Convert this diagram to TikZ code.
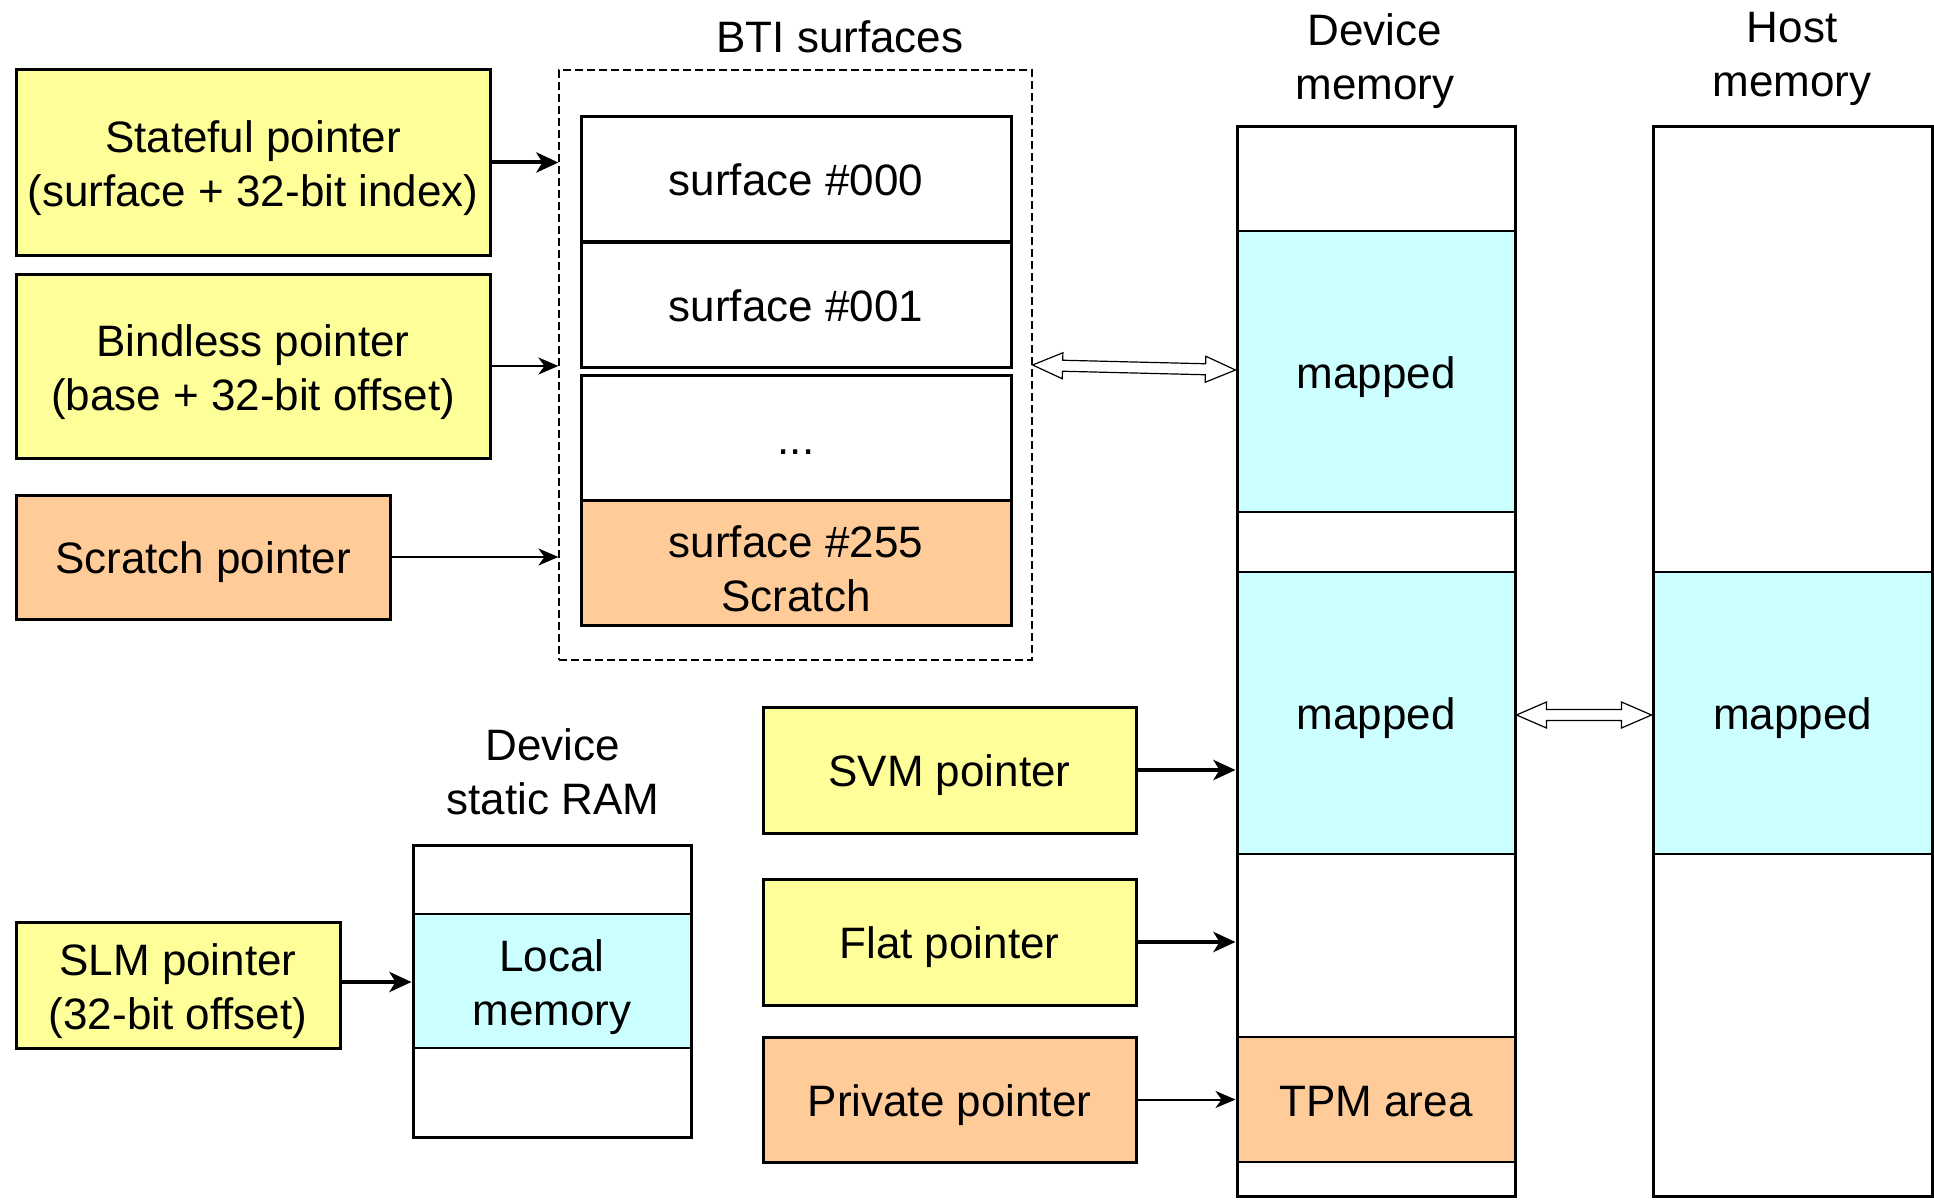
\documentclass[tikz,border=0pt]{standalone}
\usepackage{fontspec}
\setmainfont{Liberation Sans}
\usetikzlibrary{arrows.meta,calc}

\definecolor{ptryellow}{HTML}{FFFF99}
\definecolor{ptrorange}{HTML}{FFCC99}
\definecolor{memcyan}{HTML}{CCFFFF}

% tall line boxes so that box labels sit slightly below the geometric centre
\newcommand\linestrut{\rule[-4.66pt]{0pt}{26pt}}
\newcommand\topstrut{\rule{0pt}{22pt}}

\tikzset{
  lbl/.style={font=\fontsize{22}{27}\selectfont, align=center, inner sep=0pt},
  oneline/.style={execute at begin node=\linestrut, execute at end node=\linestrut},
  box/.style={lbl, draw, line width=1.5pt, minimum width=#1},
  box/.default=237pt,
  yellowbox/.style={box=#1, fill=ptryellow},
  orangebox/.style={box=#1, fill=ptrorange},
  surfbox/.style={box=215pt, minimum height=62.5pt},
  band/.style={lbl, draw, line width=0.7pt, minimum width=139pt},
  column/.style={draw, line width=1.5pt, inner sep=0pt, minimum width=139pt},
  thickptr/.style={line width=2pt, -{Stealth[length=11pt,width=10pt,inset=3pt]}},
  thinptr/.style={line width=1pt, -{Stealth[length=10pt,width=8.5pt,inset=3pt]}},
  hollowarrow/.style={line width=0.6pt, fill=white, line join=miter,
    to path={
      -- ($(\tikztostart)!15pt!(\tikztotarget)!6.5pt!90:(\tikztotarget)$)
      -- ($(\tikztostart)!15pt!(\tikztotarget)!2.75pt!90:(\tikztotarget)$)
      -- ($(\tikztotarget)!15pt!(\tikztostart)!2.75pt!-90:(\tikztostart)$)
      -- ($(\tikztotarget)!15pt!(\tikztostart)!6.5pt!-90:(\tikztostart)$)
      -- (\tikztotarget)
      -- ($(\tikztotarget)!15pt!(\tikztostart)!6.5pt!90:(\tikztostart)$)
      -- ($(\tikztotarget)!15pt!(\tikztostart)!2.75pt!90:(\tikztostart)$)
      -- ($(\tikztostart)!15pt!(\tikztotarget)!2.75pt!-90:(\tikztotarget)$)
      -- ($(\tikztostart)!15pt!(\tikztotarget)!6.5pt!-90:(\tikztotarget)$)
      -- cycle}},
}

\begin{document}
\begin{tikzpicture}[x=0.5pt,y=-0.5pt]
\useasboundingbox (0,0) rectangle (1934,1204);

% pointer kinds on the left
\node[yellowbox=237pt, minimum height=92.5pt] (stateful) at (253,162.5)
  {\topstrut Stateful pointer\\(surface + 32-bit index)};
\node[yellowbox=237pt, minimum height=92pt] (bindless) at (253,366)
  {\topstrut Bindless pointer\\(base + 32-bit offset)};
\node[orangebox=187pt, minimum height=62pt, oneline] (scratch) at (203,557)
  {Scratch pointer};

% binding table
\node[lbl] (btititle) at (840,37) {BTI surfaces};
\node[draw, line width=0.6pt, dash pattern=on 4pt off 2pt, inner sep=0pt,
      minimum width=236.5pt, minimum height=295pt] (bti) at (795.5,365) {};
\node[surfbox, oneline] (s000) at (796,179) {surface \#000};
\node[surfbox, oneline] (s001) at (796,304.5) {surface \#001};
\node[surfbox, oneline] (sdots) at (796,437.5) {...};
\node[surfbox, fill=ptrorange] (s255) at (796,562.5) {\topstrut surface \#255\\Scratch};

% device memory column
\node[lbl] (devtitle) at (1375,61.5) {Device\\memory};
\node[band, oneline, fill=memcyan, minimum height=140.5pt] (dmap1) at (1376,371.5) {mapped};
\node[band, oneline, fill=memcyan, minimum height=141pt] (dmap2) at (1376,713) {mapped};
\node[band, oneline, fill=ptrorange, minimum height=62.5pt] (tpm) at (1376,1099.5) {TPM area};
\node[column, minimum height=534.5pt] (devmem) at (1376,661.5) {};

% host memory column
\node[lbl] (hosttitle) at (1792,59) {Host\\memory};
\node[band, oneline, fill=memcyan, minimum height=141pt, minimum width=139.5pt] (hmap) at (1792.5,713) {mapped};
\node[column, minimum width=139.5pt, minimum height=534.5pt] (hostmem) at (1792.5,661.5) {};

% device static RAM
\node[lbl] (sramtitle) at (553,772) {Device\\static RAM};
\node[band, fill=memcyan, minimum height=67pt] (local) at (552,981) {\topstrut Local\\memory};
\node[column, minimum height=146pt] (sram) at (552,991) {};

% pointer kinds at the bottom
\node[yellowbox=186.5pt, minimum height=63pt, oneline] (svm) at (949.5,770) {SVM pointer};
\node[yellowbox=186.5pt, minimum height=63pt, oneline] (flat) at (949.5,942) {Flat pointer};
\node[orangebox=186.5pt, minimum height=62.5pt, oneline] (private) at (949.5,1099.5) {Private pointer};
\node[yellowbox=162pt, minimum height=63pt] (slm) at (178,985) {\topstrut SLM pointer\\(32-bit offset)};

% pointer connectors
\draw[thickptr] (stateful.east) -- (stateful.east -| bti.west);
\draw[thinptr, line width=1.2pt] (bindless.east) -- (bindless.east -| bti.west);
\draw[thinptr] (scratch.east) -- (scratch.east -| bti.west);
\draw[thickptr] (svm.east) -- (svm.east -| devmem.west);
\draw[thickptr] (flat.east) -- (flat.east -| devmem.west);
\draw[thinptr] (private.east) -- (private.east -| devmem.west);
\draw[thickptr] (slm.east |- 0,982) -- (sram.west |- 0,982);

% mappings between memories
\coordinate (m1a) at (bti.east |- 0,365);
\coordinate (m1b) at (devmem.west |- 0,370);
\coordinate (m2a) at (devmem.east |- 0,715);
\coordinate (m2b) at (hostmem.west |- 0,715);
\draw[hollowarrow] (m1a) to (m1b);
\draw[hollowarrow] (m2a) to (m2b);
\end{tikzpicture}
\end{document}
